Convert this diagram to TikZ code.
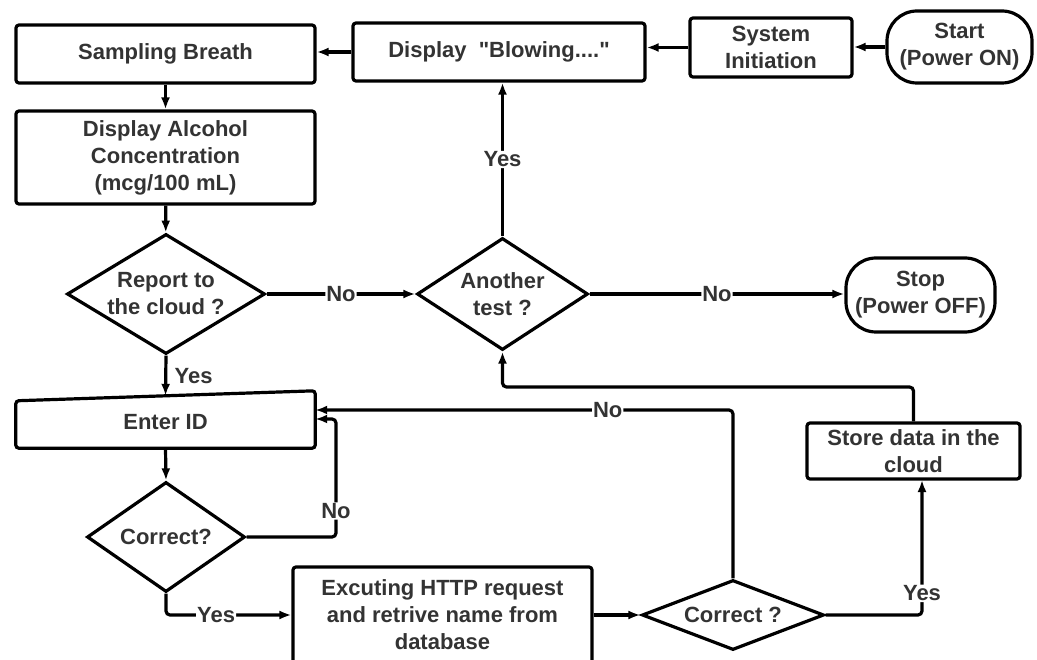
\documentclass[tikz,border=0pt]{standalone}
\usepackage{fontspec}
\setmainfont{Liberation Sans}[Ligatures=TeXOff]
\usetikzlibrary{shapes.geometric,arrows.meta}
\definecolor{txt}{HTML}{333333}
\begin{document}
\begin{tikzpicture}[x=1pt,y=-1pt,
  every node/.style={font=\bfseries\fontsize{22}{27}\selectfont, text=txt, align=center},
  box/.style={draw=black, line width=3.2pt, rectangle, rounded corners=3pt, inner sep=0pt},
  term/.style={draw=black, line width=3.2pt, rectangle, rounded corners=30pt, inner sep=0pt},
  dia/.style={draw=black, line width=3.2pt, diamond, inner sep=0pt},
  arr/.style={line width=3.2pt, rounded corners=4pt, -{Latex[length=12pt,width=9pt]}},
  lbl/.style={fill=white, inner sep=1pt}
]
\useasboundingbox[fill=white] (0,0) rectangle (1037,660);

% nodes
\node[box, minimum width=299pt, minimum height=58pt] (sampling) at (165.5,54) {Sampling Breath};
\node[box, minimum width=299pt, minimum height=93pt] (alcohol) at (165.5,157.5) {Display Alcohol\\Concentration\\(mcg/100 mL)};
\node[box, minimum width=292pt, minimum height=58pt] (blow) at (499,52) {Display\ \ "Blowing...."};
\node[box, minimum width=162pt, minimum height=59pt] (sysinit) at (771,47.5) {System\\Initiation};
\node[term, minimum width=145pt, minimum height=72pt] (start) at (959.5,47) {Start\\(Power ON)};
\node[dia, minimum width=198pt, minimum height=120pt, aspect=1.65] (report) at (166,294) {Report to\\the cloud ?};
\node[dia, minimum width=171pt, minimum height=112pt, aspect=1.53] (another) at (502.5,294) {Another\\test ?};
\node[term, minimum width=149pt, minimum height=74pt] (stop) at (920.5,295) {Stop\\(Power OFF)};
\node[rectangle, inner sep=0pt, minimum width=299pt, minimum height=52pt] (enter) at (165.5,422) {Enter ID};
\draw[line width=3.2pt, rounded corners=3pt] (enter.south west) -- ([yshift=-5pt]enter.north west) -- ([yshift=5pt]enter.north east) -- (enter.south east) -- cycle;
\node[dia, minimum width=158pt, minimum height=110pt, aspect=1.44] (correct1) at (166,537) {Correct?};
\node[box, minimum width=299pt, minimum height=96pt] (http) at (442.5,615) {Excuting HTTP request\\and retrive name from\\database};
\node[dia, minimum width=182pt, minimum height=70pt, aspect=2.6] (correct2) at (733,615) {Correct ?};
\node[box, minimum width=213pt, minimum height=56pt] (store) at (913.5,451) {Store data in the\\cloud};

% connectors
\draw[arr] (start.west) -- (start.west -| sysinit.east);
\draw[arr] (sysinit.west) -- (sysinit.west -| blow.east);
\draw[arr] (blow.west) -- (blow.west -| sampling.east);
\draw[arr] (sampling) -- (alcohol);
\draw[arr] (alcohol) -- (report);
\draw[arr] (report.east) -- node[lbl]{No} (another.west);
\draw[arr] (another.north) -- node[lbl]{Yes} (another.north |- blow.south);
\draw[arr] (another.east) -- node[lbl]{No} (another.east -| stop.west);
\draw[arr] (report.south) -- node[anchor=west, xshift=4pt]{Yes} (enter.north);
\draw[arr] (enter.south) -- (correct1.north);
\coordinate (c1) at (336,419);
\draw[arr] (correct1.east) -| node[lbl, pos=0.61]{No} (c1) -- (c1 -| enter.east);
\draw[arr] (correct1.south) |- node[lbl, pos=0.7]{Yes} (http.west);
\draw[arr] (http.east) -- (correct2.west);
\coordinate (c2) at (733,410);
\draw[arr] (correct2.north) -- (c2) -- node[lbl, pos=0.3]{No} (c2 -| enter.east);
\coordinate (c4) at (922,480);
\draw[arr] (correct2.east) -| node[lbl, pos=0.58]{Yes} (c4);
\coordinate (c3) at (502.5,387);
\draw[arr] (store.north) |- (c3) -- (another.south);
\end{tikzpicture}
\end{document}
